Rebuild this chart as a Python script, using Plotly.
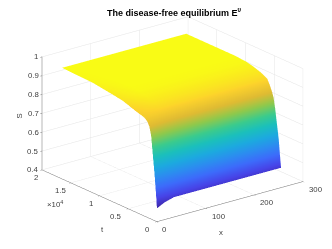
import plotly.graph_objects as go

x_vals = [0, 15, 35, 60, 120, 200, 255]
t_vals = [0, 100, 200, 400, 700, 1000, 1300, 1600, 2000, 2400, 3000, 3600, 5000, 6000, 8000, 11000, 16500]
S_x0   = [.47, .52, .56, .64, .74, .84, .885, .905, .918, .925, .93, .935, .95, .96, .97, .983, .99]
S_x15  = [.49, .53, .57, .65, .74, .825, .875, .90, .925, .935, .945, .95, .965, .972, .98, .987, .99]
S_x35  = [.505, .54, .575, .65, .735, .81, .865, .895, .925, .945, .955, .964, .978, .985, .99, .99, .99]
S_x60  = [.505, .54, .575, .65, .73, .805, .86, .89, .92, .945, .955, .964, .978, .985, .99, .99, .99]
S_x120 = [.505, .54, .575, .65, .725, .80, .86, .89, .92, .945, .955, .964, .978, .985, .99, .99, .99]
S_x200 = [.505, .54, .575, .65, .725, .80, .86, .89, .92, .945, .955, .964, .978, .985, .99, .99, .99]
S_x255 = [.505, .54, .575, .65, .725, .80, .86, .89, .92, .945, .955, .964, .978, .985, .99, .99, .99]
columns = [S_x0, S_x15, S_x35, S_x60, S_x120, S_x200, S_x255]
S = [[c[i] for c in columns] for i in range(len(t_vals))]

x_ticks = [0, 100, 200, 300]
t_ticks = [0, 5000, 10000, 15000, 20000]
t_labels = ["0", "0.5", "1", "1.5", "2"]
z_ticks = [0.4, 0.5, 0.6, 0.7, 0.8, 0.9, 1]

parula = [[0, "#3e26a8"], [.1, "#4744e8"], [.2, "#3d6bfb"], [.3, "#2c8df0"], [.4, "#1caadf"],
          [.5, "#1bc0bc"], [.6, "#3ccb8c"], [.7, "#8fc94c"], [.8, "#dfbb33"], [.9, "#fcd22c"], [1, "#f9fb15"]]

TXT = "#404040"
ann = []
def label(x, y, z, text, dx=0, dy=0, size=7.8, angle=0):
    ann.append(dict(x=x, y=y, z=z, text=text, showarrow=False, xshift=dx, yshift=dy, textangle=angle,
                    font=dict(size=size, color=TXT, family="Liberation Sans")))
for v, d in zip(x_ticks, [8, 13, 13, 13]):
    label(v, 0, 0.4, str(v), dx=d, dy=-8)
for v, s, d in zip(t_ticks, t_labels, [-9, -12, -8, -10, -6]):
    label(0, v, 0.4, s, dx=d, dy=-8)
for v in z_ticks:
    label(0, 20000, v, str(v), dx=-6 if v == 1 else -9, dy=0)
label(140, 0, 0.4, "x", dx=-4, dy=-29)
label(0, 10000, 0.4, "t", dx=3, dy=-34)
label(0, 20000, 0.7, "S", dx=-23, dy=-3, angle=-90)

def axis(rng, vals):
    return dict(range=rng, tickvals=vals, showticklabels=False, title=dict(text=""),
                showgrid=True, gridcolor="#e4e4e4", gridwidth=1, showbackground=False,
                showline=True, linecolor="#707070", linewidth=1, ticks="outside", ticklen=2,
                tickcolor="#707070", zeroline=False, showspikes=False)

fig = go.Figure(go.Surface(x=x_vals, y=t_vals, z=S, colorscale=parula, showscale=False,
                           cmin=0.47, cmax=0.99,
                           lighting=dict(ambient=1, diffuse=0, specular=0, roughness=1, fresnel=0),
                           hoverinfo="skip"))
fig.update_layout(
    width=332, height=249, margin=dict(l=0, r=0, t=0, b=0), paper_bgcolor="white",
    title=dict(text="<b>The disease-free equilibrium E<sup>0</sup></b>", x=0.5, y=0.982, xanchor="center",
               yanchor="middle", font=dict(size=9, family="Liberation Sans", color="black")),
    annotations=[dict(text="×10<sup>4</sup>", x=37/332, y=1-203/249, xref="paper", yref="paper",
                      showarrow=False, font=dict(size=7.8, color=TXT, family="Liberation Sans"))],
    scene=dict(
        domain=dict(x=[0, 1], y=[0, 1]),
        xaxis=axis([0, 300], x_ticks), yaxis=axis([0, 20000], t_ticks), zaxis=axis([0.4, 1], z_ticks),
        aspectmode="manual", aspectratio=dict(x=1.488, y=1.50, z=0.97),
        camera=dict(projection=dict(type="orthographic"),
                    eye=dict(x=-0.898, y=-1.171, z=0.441), center=dict(x=0.01, y=-0.007, z=-0.114), up=dict(x=0, y=0, z=1)),
        annotations=ann,
    ),
)
fig.write_html("out.html")
